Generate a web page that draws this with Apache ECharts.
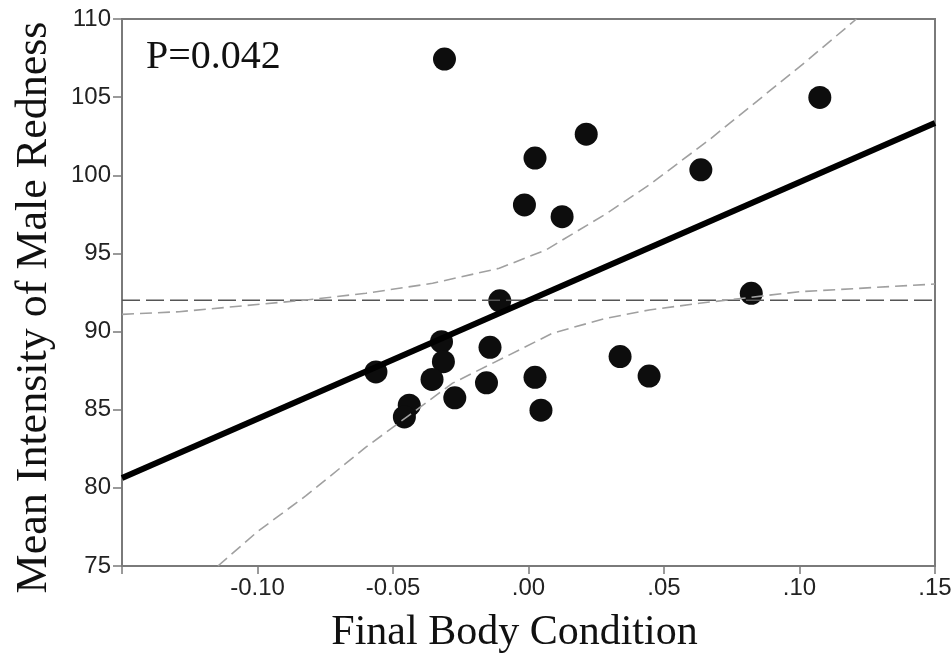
<!DOCTYPE html>
<html>
<head>
<meta charset="utf-8">
<script src="https://cdn.jsdelivr.net/npm/echarts@6.0.0/dist/echarts.min.js"></script>
<style>html,body{margin:0;padding:0;background:#fff}#c{width:952px;height:657px}</style>
</head>
<body>
<div id="c"></div>
<script>
// Observed data points (Final Body Condition, Mean Intensity of Male Redness)
const pointX = [-0.0310, 0.1075, 0.0213, 0.0024, -0.0015, 0.0124, 0.0636, -0.0106, 0.0822, -0.0563, -0.0321,
                -0.0314, -0.0356, -0.0142, -0.0155, 0.0024, 0.0046, -0.0272, -0.0440, -0.0458, 0.0338, 0.0445];
const pointY = [107.44, 104.98, 102.63, 101.10, 98.10, 97.35, 100.35, 91.97, 92.45, 87.42, 89.35,
                88.07, 86.94, 88.99, 86.72, 87.07, 84.97, 85.76, 85.29, 84.54, 88.40, 87.15];

// Regression line (endpoints)
const fitX = [-0.15, 0.15];
const fitY = [80.63, 103.34];

// Mean (horizontal reference) line
const meanX = [-0.15, 0.15];
const meanY = [92.0, 92.0];

// Upper confidence band
const upperX = [-0.15, -0.1289, -0.0821, -0.0600, -0.0354, -0.0108, 0.0064, 0.0286, 0.0445, 0.0667, 0.1024, 0.1210];
const upperY = [91.10, 91.27, 92.02, 92.45, 93.09, 94.05, 95.22, 97.53, 99.38, 102.27, 107.28, 110.0];

// Lower confidence band
const lowerX = [-0.1146, -0.1000, -0.0821, -0.0600, -0.0280, -0.0083, 0.0089, 0.0286, 0.0445, 0.0630, 0.0999, 0.15];
const lowerY = [75.0, 77.2, 79.5, 82.6, 86.7, 88.4, 89.9, 90.85, 91.38, 91.81, 92.55, 93.04];

// Tick labels
const xTickLabels = ['', '-0.10', '-0.05', '.00', '.05', '.10', '.15'];
const yTickLabels = ['75', '80', '85', '90', '95', '100', '105', '110'];

const zip = (a, b) => a.map((v, i) => [v, b[i]]);

const chart = echarts.init(document.getElementById('c'), null, {renderer: 'canvas'});
const axisColor = '#7a7a7a';
const labelFont = {fontFamily: 'Liberation Sans', fontSize: 24, color: '#222'};

chart.setOption({
  animation: false,
  backgroundColor: '#fff',
  grid: {left: 122, right: 17, top: 19, bottom: 91, outerBoundsMode: 'none', containLabel: false,
         show: true, borderColor: axisColor, borderWidth: 2, backgroundColor: 'transparent'},
  xAxis: {
    type: 'value', min: -0.15, max: 0.15, interval: 0.05,
    name: 'Final Body Condition', nameLocation: 'middle', nameGap: 46,
    nameTextStyle: {fontFamily: 'Liberation Serif', fontSize: 42, color: '#111', padding: [0, 28, 0, 0]},
    axisLine: {show: true, onZero: false, lineStyle: {color: axisColor, width: 2}},
    axisTick: {show: true, inside: false, length: 8, lineStyle: {color: axisColor, width: 1.5}},
    axisLabel: Object.assign({}, labelFont, {margin: 10, formatter: v => xTickLabels[Math.round((v + 0.15) / 0.05)]}),
    splitLine: {show: false}
  },
  yAxis: {
    type: 'value', min: 75, max: 110, interval: 5,
    name: 'Mean Intensity of Male Redness', nameLocation: 'middle', nameGap: 66,
    nameTextStyle: {fontFamily: 'Liberation Serif', fontSize: 44, color: '#111', padding: [0, 30, 0, 0]},
    axisLine: {show: true, onZero: false, lineStyle: {color: axisColor, width: 2}},
    axisTick: {show: true, inside: false, length: 9, lineStyle: {color: axisColor, width: 1.5}},
    axisLabel: Object.assign({}, labelFont, {margin: 11, formatter: v => yTickLabels[Math.round((v - 75) / 5)]}),
    splitLine: {show: false}
  },
  graphic: [{
    type: 'text', left: 146, top: 37,
    style: {text: 'P=0.042', fontFamily: 'Liberation Serif', fontSize: 40, fill: '#111'}
  }],
  series: [
    {type: 'line', data: zip(meanX, meanY), symbol: 'none', silent: true,
     lineStyle: {color: '#555', width: 1.6, type: [18, 6]}},
    {type: 'line', data: zip(upperX, upperY), symbol: 'none', smooth: false, silent: true,
     lineStyle: {color: '#a0a0a0', width: 1.6, type: [12, 6]}},
    {type: 'line', data: zip(lowerX, lowerY), symbol: 'none', smooth: false, silent: true,
     lineStyle: {color: '#a0a0a0', width: 1.6, type: [12, 6]}},
    {type: 'line', data: zip(fitX, fitY), symbol: 'none', silent: true,
     lineStyle: {color: '#000', width: 6}},
    {type: 'scatter', data: zip(pointX, pointY), symbol: 'circle', symbolSize: 23,
     itemStyle: {color: '#0d0d0d', opacity: 1}}
  ]
});
</script>
</body>
</html>
